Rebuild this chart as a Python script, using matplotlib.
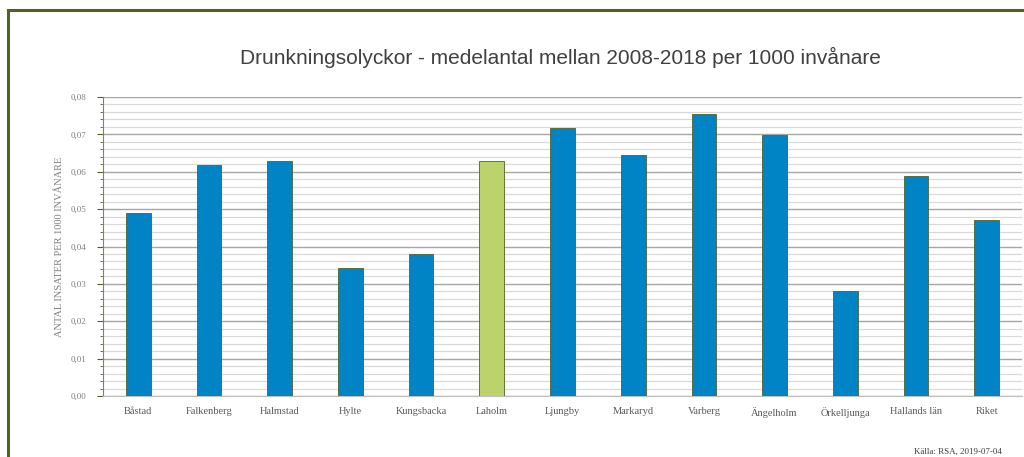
import matplotlib.pyplot as plt
from matplotlib.patches import Rectangle
from matplotlib.ticker import MultipleLocator, FuncFormatter

kommuner = ["Båstad", "Falkenberg", "Halmstad", "Hylte", "Kungsbacka", "Laholm",
            "Ljungby", "Markaryd", "Varberg", "Ängelholm", "Örkelljunga",
            "Hallands län", "Riket"]
medel = [0.0489, 0.0618, 0.0628, 0.0342, 0.0380, 0.0628,
         0.0717, 0.0644, 0.0754, 0.0698, 0.0281, 0.0588, 0.0471]
markerad = "Laholm"

blue = "#0084c6"
green = "#bcd36c"
olive = "#4f6228"

fig = plt.figure(figsize=(10.24, 4.57), dpi=100)
fig.patch.set_facecolor("white")

# outer frame (cut off on right/bottom like the screenshot)
fig.add_artist(Rectangle((8 / 1024, -0.1), 1.2, 1 - 10 / 457 + 0.1,
                         transform=fig.transFigure, fill=False,
                         edgecolor=olive, linewidth=2.2))

ax = fig.add_axes([103 / 1024, 1 - 396 / 457, (1022 - 103) / 1024, (396 - 97) / 457])

colors = [green if k == markerad else blue for k in kommuner]
x = list(range(len(kommuner)))
ax.bar(x, medel, width=0.35, color=colors, edgecolor=olive, linewidth=0.6, zorder=3)

ax.set_xlim(-0.5, len(kommuner) - 0.5)
ax.set_ylim(0, 0.08)
ax.yaxis.set_major_locator(MultipleLocator(0.01))
ax.yaxis.set_minor_locator(MultipleLocator(0.002))
ax.yaxis.set_major_formatter(FuncFormatter(lambda v, p: ("%.2f" % v).replace(".", ",")))
ax.grid(axis="y", which="major", color="#a6a6a6", linewidth=1.0, zorder=0)
ax.grid(axis="y", which="minor", color="#d9d9d9", linewidth=0.9, zorder=0)
ax.set_axisbelow(True)

ax.set_xticks(x)
ax.set_xticklabels(kommuner, fontfamily="Liberation Serif", fontsize=7.5, color="#595959")
ax.tick_params(axis="x", length=0, pad=8)
ax.tick_params(axis="y", which="major", length=4, color=olive, labelsize=6.5,
               labelcolor="#7f7f7f", pad=8)
ax.tick_params(axis="y", which="minor", length=2.5, color=olive)
for lab in ax.get_yticklabels():
    lab.set_fontfamily("Liberation Serif")

for s in ["top", "right"]:
    ax.spines[s].set_visible(False)
ax.spines["left"].set_color("#7f7f7f")
ax.spines["bottom"].set_color("#bfbfbf")

ax.set_ylabel("ANTAL INSATER PER 1000 INVÅNARE", fontfamily="Liberation Serif",
              fontsize=7.5, color="#7f7f7f", labelpad=5)

fig.text(560 / 1024, 1 - 57 / 457,
         "Drunkningsolyckor - medelantal mellan 2008-2018 per 1000 invånare",
         ha="center", va="center", fontfamily="Liberation Sans", fontsize=15, color="#404040")
fig.text(914 / 1024, 1 - 452 / 457, "Källa: RSA, 2019-07-04",
         ha="left", va="center", fontfamily="Liberation Serif", fontsize=6.5, color="#404040")

fig.savefig("out.png", dpi=100, facecolor="white")
